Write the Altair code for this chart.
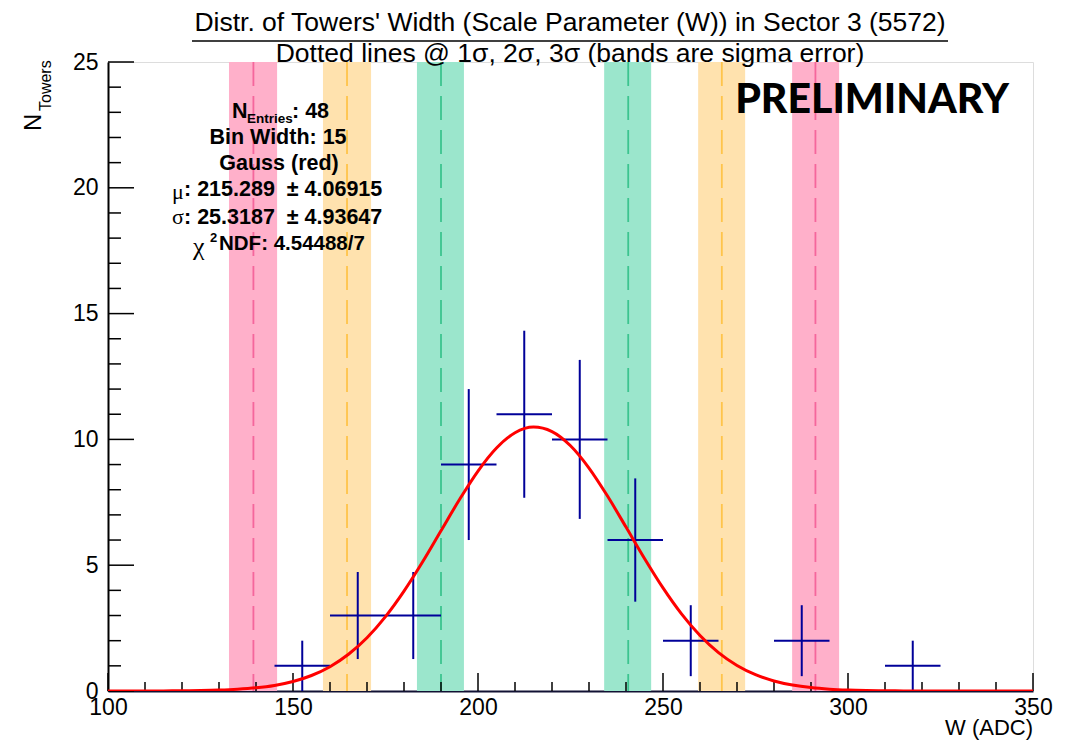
import altair as alt
import pandas as pd

# ---------------- data ----------------
bin_lo = [145, 160, 175, 190, 205, 220, 235, 250, 280, 310]
bin_width = 15
counts = [1, 3, 3, 9, 11, 10, 6, 2, 2, 1]
errors = [1.0, 1.73, 1.73, 3.0, 3.32, 3.16, 2.45, 1.41, 1.41, 1.0]

band_lo = [132.7, 158.1, 183.5, 234.1, 259.5, 284.9]
band_hi = [145.7, 171.1, 196.2, 246.8, 272.2, 297.6]
sigma_lines = [139.3, 164.6, 190.0, 240.6, 265.9, 291.2]
band_kind = ["3s", "2s", "1s", "1s", "2s", "3s"]

fit_x = [100, 105, 110, 115, 120, 125, 130, 135, 140, 145, 150, 155, 160, 165, 170,
         175, 180, 185, 190, 195, 200, 205, 210, 215, 220, 225, 230, 235, 240, 245,
         250, 255, 260, 265, 270, 275, 280, 285, 290, 295, 300, 305, 310, 315, 320,
         325, 330, 335, 340, 345, 350]
fit_y = [0.0003, 0.0008, 0.0018, 0.0041, 0.0088, 0.018, 0.036, 0.069, 0.126, 0.222,
         0.377, 0.616, 0.966, 1.459, 2.118, 2.958, 3.971, 5.127, 6.370, 7.609,
         8.742, 9.658, 10.263, 10.489, 10.310, 9.746, 8.861, 7.748, 6.515, 5.269,
         4.098, 3.066, 2.206, 1.526, 1.016, 0.650, 0.400, 0.237, 0.135, 0.074,
         0.039, 0.020, 0.0096, 0.0045, 0.0020, 0.0009, 0.0004, 0.0002, 0.0001,
         0.0, 0.0]

x_major = [100, 150, 200, 250, 300, 350]
x_minor = [110, 120, 130, 140, 160, 170, 180, 190, 210, 220, 230, 240,
           260, 270, 280, 290, 310, 320, 330, 340]
y_major = [0, 5, 10, 15, 20, 25]
y_minor = [1, 2, 3, 4, 6, 7, 8, 9, 11, 12, 13, 14, 16, 17, 18, 19, 21, 22, 23, 24]

title1 = "Distr. of Towers' Width (Scale Parameter (W)) in Sector 3 (5572)"
title2 = "Dotted lines @ 1σ, 2σ, 3σ (bands are sigma error)"

W, H = 925, 629
XDOM = [100, 350]
YDOM = [0, 25]

xs = alt.Scale(domain=XDOM, nice=False, zero=False)
ys = alt.Scale(domain=YDOM, nice=False)

band_colors = alt.Scale(domain=["1s", "2s", "3s"], range=["#9be6cc", "#ffe2ae", "#ffb0ca"])
line_colors = alt.Scale(domain=["1s", "2s", "3s"], range=["#3cc48f", "#ffc44a", "#f5669c"])

bands_df = pd.DataFrame({"lo": band_lo, "hi": band_hi, "c": sigma_lines, "k": band_kind})
hist_df = pd.DataFrame({"lo": bin_lo, "n": counts, "e": errors})
hist_df["hi"] = hist_df["lo"] + bin_width
hist_df["mid"] = hist_df["lo"] + bin_width / 2
hist_df["elo"] = hist_df["n"] - hist_df["e"]
hist_df["ehi"] = hist_df["n"] + hist_df["e"]
fit_df = pd.DataFrame({"x": fit_x, "y": fit_y})

# base with axes
base = alt.Chart(pd.DataFrame({"x": [100], "y": [0]})).mark_point(opacity=0).encode(
    x=alt.X("x:Q", scale=xs,
            axis=alt.Axis(values=x_major, format="d", title=None, ticks=False, grid=False,
                          domain=True, domainColor="#111133", domainWidth=2,
                          labelFontSize=23, labelFont="Liberation Sans", labelColor="black",
                          labelPadding=5, labelFlush=False)),
    y=alt.Y("y:Q", scale=ys,
            axis=alt.Axis(values=y_major, format="d", title=None, ticks=False, grid=False,
                          domain=True, domainColor="black", domainWidth=2,
                          labelFontSize=23, labelFont="Liberation Sans", labelColor="black",
                          labelPadding=10, labelFlush=False)),
)

bands = alt.Chart(bands_df).mark_rect().encode(
    x=alt.X("lo:Q", scale=xs), x2="hi:Q",
    y=alt.value(0), y2=alt.value(H),
    fill=alt.Fill("k:N", scale=band_colors, legend=None),
)

dlines = alt.Chart(bands_df).mark_rule(strokeDash=[24, 10], strokeWidth=1.8, opacity=1).encode(
    x=alt.X("c:Q", scale=xs),
    y=alt.value(0), y2=alt.value(H),
    stroke=alt.Stroke("k:N", scale=line_colors, legend=None),
)

xminor = alt.Chart(pd.DataFrame({"v": x_minor})).mark_rule(color="black", strokeWidth=1.5).encode(
    x=alt.X("v:Q", scale=xs), y=alt.value(H), y2=alt.value(H - 9))
xmajor = alt.Chart(pd.DataFrame({"v": x_major})).mark_rule(color="black", strokeWidth=1.5).encode(
    x=alt.X("v:Q", scale=xs), y=alt.value(H), y2=alt.value(H - 18))
yminor = alt.Chart(pd.DataFrame({"v": y_minor})).mark_rule(color="black", strokeWidth=1.5).encode(
    y=alt.Y("v:Q", scale=ys), x=alt.value(0), x2=alt.value(13))
ymajor = alt.Chart(pd.DataFrame({"v": y_major})).mark_rule(color="black", strokeWidth=1.5).encode(
    y=alt.Y("v:Q", scale=ys), x=alt.value(0), x2=alt.value(26))

hbars = alt.Chart(hist_df).mark_rule(color="#000099", strokeWidth=2).encode(
    x=alt.X("lo:Q", scale=xs), x2="hi:Q", y=alt.Y("n:Q", scale=ys))
vbars = alt.Chart(hist_df).mark_rule(color="#000099", strokeWidth=2).encode(
    x=alt.X("mid:Q", scale=xs), y=alt.Y("elo:Q", scale=ys), y2="ehi:Q")

curve = alt.Chart(fit_df).mark_line(color="#ff0000", strokeWidth=3, interpolate="monotone",
                                    clip=True).encode(
    x=alt.X("x:Q", scale=xs), y=alt.Y("y:Q", scale=ys))

one = pd.DataFrame({"a": [0]})


def txt(s, x, y, **kw):
    opts = dict(font="Liberation Sans", color="black", baseline="middle")
    opts.update(kw)
    return alt.Chart(one).mark_text(text=s, **opts).encode(x=alt.value(x), y=alt.value(y))


OX, OY = 108, 62
SF = 21.5
NB = "\u00a0"
texts = [
    txt(title1, 570 - OX, 23 - OY, fontSize=26.5, align="center"),
    txt(title2, 570 - OX, 54 - OY, fontSize=26.5, align="center"),
    # stats box
    txt("N", 232 - OX, 112 - OY, fontSize=SF, fontWeight="bold", align="left"),
    txt("Entries", 247 - OX, 119 - OY, fontSize=13.5, fontWeight="bold", align="left"),
    txt(": 48", 292 - OX, 112 - OY, fontSize=SF, fontWeight="bold", align="left"),
    txt("Bin Width: 15", 278 - OX, 138 - OY, fontSize=SF, fontWeight="bold", align="center"),
    txt("Gauss (red)", 279 - OX, 164 - OY, fontSize=SF, fontWeight="bold", align="center"),
    txt("μ", 172 - OX, 192 - OY, fontSize=22, font="Liberation Serif", align="left"),
    txt(": 215.289" + NB + NB + "± 4.06915", 184 - OX, 190 - OY, fontSize=SF, fontWeight="bold", align="left"),
    txt("σ", 172 - OX, 217 - OY, fontSize=22, font="Liberation Serif", align="left"),
    txt(": 25.3187" + NB + NB + "± 4.93647", 184 - OX, 218 - OY, fontSize=SF, fontWeight="bold", align="left"),
    txt("χ", 193 - OX, 247 - OY, fontSize=26, font="Liberation Serif", align="left"),
    txt("2", 210 - OX, 238 - OY, fontSize=13, fontWeight="bold", align="left"),
    txt("NDF: 4.54488/7", 219 - OX, 244 - OY, fontSize=20.5, fontWeight="bold", align="left"),
    # preliminary
    txt("PRELIMINARY", 872 - OX, 101 - OY, fontSize=41, font="Lato", fontWeight=900, align="center"),
    # axis titles
    txt("W (ADC)", 1033 - OX, 728 - OY, fontSize=22, align="right"),
    txt("N", 34 - OX, 131 - OY, fontSize=24, angle=270, align="left"),
    txt("Towers", 46 - OX, 111 - OY, fontSize=16, angle=270, align="left"),
]

title_bar = alt.Chart(one).mark_rule(color="black", strokeWidth=1.5).encode(
    x=alt.value(192 - OX), x2=alt.value(948 - OX), y=alt.value(41 - OY))

chart = alt.layer(
    bands, dlines, base, xminor, xmajor, yminor, ymajor, hbars, vbars, curve, title_bar, *texts
).properties(
    width=W, height=H,
    autosize=alt.AutoSizeParams(type="none"),
    padding={"left": 100, "top": 54, "right": 36, "bottom": 49},
).configure_view(
    stroke="black", strokeWidth=2
).configure(background="white")

chart.save("out.html", embed_options={"renderer": "svg", "actions": False})
